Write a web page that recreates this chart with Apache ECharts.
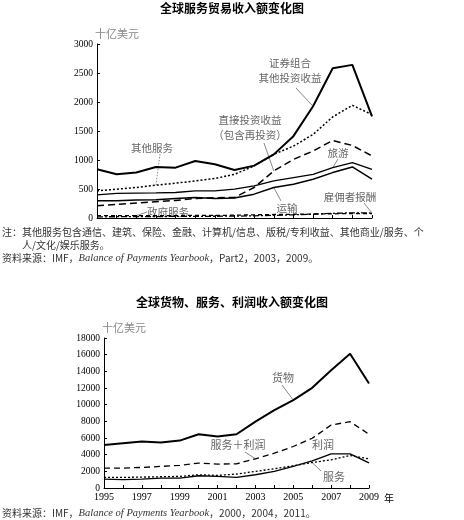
<!DOCTYPE html>
<html>
<head>
<meta charset="utf-8">
<script src="https://cdn.jsdelivr.net/npm/echarts@6/dist/echarts.min.js"></script>
<style>
  html, body { margin: 0; padding: 0; background: #fff; }
  #main { width: 464px; height: 520px; }
</style>
</head>
<body>
<div id="main"></div>
<script>
// 年份
var years = ['1995', '1996', '1997', '1998', '1999', '2000', '2001', '2002',
  '2003', '2004', '2005', '2006', '2007', '2008', '2009'];

// 图1：全球服务贸易收入额（十亿美元）
var portfolioIncome = [840, 754, 783, 880, 868, 983, 926, 829, 903, 1097, 1411, 1926, 2583, 2640, 1754];
var otherServices = [469, 497, 526, 566, 600, 640, 680, 754, 897, 1097, 1240, 1440, 1743, 1943, 1783];
var directInvestment = [211, 234, 257, 280, 303, 337, 349, 354, 526, 811, 1011, 1154, 1337, 1251, 1069];
var travel = [400, 423, 429, 434, 440, 469, 469, 497, 554, 640, 697, 754, 869, 954, 840];
var transport = [297, 297, 309, 314, 337, 354, 337, 343, 411, 526, 583, 669, 783, 880, 669];
var governmentServices = [40, 40, 40, 42, 42, 45, 45, 48, 55, 60, 65, 68, 72, 78, 75];
var compensation = [20, 22, 24, 25, 27, 28, 30, 32, 38, 45, 55, 65, 80, 90, 85];

// 图2：全球货物、服务、利润收入额（十亿美元）
var goods = [5170, 5370, 5570, 5450, 5690, 6450, 6170, 6450, 7960, 9350, 10550, 12020, 14130, 16120, 12540];
var servicesProfit = [2390, 2390, 2470, 2590, 2710, 2985, 2870, 2900, 3500, 4180, 4980, 5970, 7560, 7960, 6450];
var services = [1270, 1270, 1310, 1350, 1390, 1590, 1510, 1670, 1990, 2310, 2670, 3060, 3380, 3900, 3500];
var profit = [1070, 1000, 1070, 1190, 1190, 1470, 1390, 1270, 1590, 1990, 2590, 3260, 4100, 4100, 3020];

var serif = '"Liberation Serif", "Noto Sans CJK SC", serif';
var cjk = '"Noto Sans CJK SC", sans-serif';

var myChart = echarts.init(document.getElementById('main'));

function yAxisFor(gridIndex, max, interval, gap) {
  return {
    type: 'value', gridIndex: gridIndex, min: 0, max: max, interval: interval,
    name: '十亿美元', nameLocation: 'end', nameGap: gap,
    nameTextStyle: { color: '#888', fontFamily: cjk, fontSize: 11, align: 'left', padding: [0, 0, 0, -2] },
    axisLine: { show: true, lineStyle: { color: '#000', width: 1 } },
    axisTick: { show: true, inside: true, length: 3, lineStyle: { color: '#000' } },
    axisLabel: { color: '#000', fontFamily: serif, fontSize: 9.5, margin: 4,
      formatter: function (v) { return String(v); } },
    splitLine: { show: false }
  };
}

function line(name, data, axis, width, type, dash) {
  return {
    name: name, type: 'line', xAxisIndex: axis, yAxisIndex: axis, data: data,
    symbol: 'none', smooth: false, silent: true,
    lineStyle: { color: '#000', width: width, type: dash || type }
  };
}

option = {
  animation: false,
  backgroundColor: '#fff',
  title: [
    { text: '全球服务贸易收入额变化图', left: 'center', top: 2, padding: 0,
      textStyle: { fontSize: 12, fontWeight: 'bold', color: '#000', fontFamily: cjk } },
    { text: '全球货物、服务、利润收入额变化图', left: 'center', top: 296, padding: 0,
      textStyle: { fontSize: 12, fontWeight: 'bold', color: '#000', fontFamily: cjk } }
  ],
  grid: [
    { left: 97, right: 92, top: 44, bottom: 302 },
    { left: 104, right: 95, top: 338, bottom: 32 }
  ],
  xAxis: [
    {
      type: 'category', gridIndex: 0, data: years, boundaryGap: false,
      axisLine: { lineStyle: { color: '#000', width: 1 } },
      axisTick: { show: true, inside: true, length: 3, interval: 0, lineStyle: { color: '#000' } },
      axisLabel: { show: false }
    },
    {
      type: 'category', gridIndex: 1, data: years, boundaryGap: false,
      axisLine: { lineStyle: { color: '#000', width: 1 } },
      axisTick: { show: true, inside: true, length: 3, interval: 0, lineStyle: { color: '#000' } },
      axisLabel: { interval: 1, color: '#000', fontFamily: serif, fontSize: 10, margin: 4 }
    }
  ],
  yAxis: [
    yAxisFor(0, 3000, 500, 3),
    yAxisFor(1, 18000, 2000, 5)
  ],
  series: [
    line('证券组合、其他投资收益', portfolioIncome, 0, 2, 'solid'),
    line('其他服务', otherServices, 0, 1.5, 'dotted', [2, 2]),
    line('直接投资收益', directInvestment, 0, 1.5, 'dashed', [7, 4]),
    line('旅游', travel, 0, 1.3, 'solid'),
    line('运输', transport, 0, 1.5, 'solid'),
    line('政府服务', governmentServices, 0, 1.3, 'dashed', [4, 3]),
    line('雇佣者报酬', compensation, 0, 1.3, 'dashed', [6, 2, 2, 2]),
    line('货物', goods, 1, 2, 'solid'),
    line('服务+利润', servicesProfit, 1, 1.3, 'dashed', [6, 4]),
    line('服务', services, 1, 1.3, 'dotted', [2, 2]),
    line('利润', profit, 1, 1.3, 'solid')
  ]
};
myChart.setOption(option);

// 标注文字与引线（引线终点取自数据点）
function pt(seriesIndex, idx, data) {
  return myChart.convertToPixel({ seriesIndex: seriesIndex }, [idx, data[idx]]);
}
function label(x, y, text, size) {
  return {
    type: 'text', silent: true,
    style: { x: x, y: y, text: text, fill: '#666', font: (size || 10.5) + 'px ' + cjk,
      align: 'center', verticalAlign: 'middle' }
  };
}
function leader(x1, y1, p, dotted) {
  return {
    type: 'line', silent: true,
    shape: { x1: x1, y1: y1, x2: p[0], y2: p[1] },
    style: { stroke: '#555', lineWidth: 0.7, lineDash: dotted ? [1.5, 1.5] : null }
  };
}

var graphics = [
  label(290, 63, '证券组合'),
  label(290, 78, '其他投资收益'),
  leader(296, 88, pt(0, 11, portfolioIncome)),
  label(250, 120, '直接投资收益'),
  label(250, 135, '（包含再投资）'),
  leader(264, 143, pt(2, 9, directInvestment)),
  label(152, 148, '其他服务'),
  leader(160, 154, pt(1, 3, otherServices), true),
  label(338, 153, '旅游'),
  leader(338, 159, pt(3, 12, travel)),
  label(287, 208, '运输'),
  leader(281, 201, pt(4, 9, transport)),
  label(350, 197, '雇佣者报酬'),
  leader(364, 203, pt(6, 14, compensation)),
  label(168, 212, '政府服务'),
  leader(147, 212, pt(5, 2, governmentServices)),

  label(283, 378, '货物', 11),
  leader(282, 385, pt(7, 10, goods)),
  label(238, 445, '服务＋利润', 11),
  leader(245, 452, pt(8, 8, servicesProfit)),
  label(323, 445, '利润', 11),
  label(334, 477, '服务', 11),
  leader(321, 471, pt(9, 11, services)),

  // 横轴单位
  { type: 'text', silent: true,
    style: { x: 384, y: 498, text: '年', fill: '#000', font: '10px ' + cjk, align: 'left', verticalAlign: 'middle' } },

  // 注释与资料来源
  { type: 'text', silent: true,
    style: { x: 2, y: 232, text: '注：其他服务包含通信、建筑、保险、金融、计算机/信息、版税/专利收益、其他商业/服务、个',
      fill: '#333', font: '10px ' + cjk, align: 'left', verticalAlign: 'middle' } },
  { type: 'text', silent: true,
    style: { x: 22, y: 245, text: '人/文化/娱乐服务。',
      fill: '#333', font: '10px ' + cjk, align: 'left', verticalAlign: 'middle' } },
  { type: 'text', silent: true,
    style: { x: 2, y: 258, text: '资料来源：IMF，{i|Balance of Payments Yearbook}，Part2，2003，2009。',
      fill: '#333', font: '10px ' + cjk, align: 'left', verticalAlign: 'middle',
      rich: { i: { fontStyle: 'italic', fontFamily: serif, fontSize: 10.5, fill: '#333' } } } },
  { type: 'text', silent: true,
    style: { x: 2, y: 513, text: '资料来源：IMF，{i|Balance of Payments Yearbook}，2000，2004，2011。',
      fill: '#333', font: '10px ' + cjk, align: 'left', verticalAlign: 'middle',
      rich: { i: { fontStyle: 'italic', fontFamily: serif, fontSize: 10.5, fill: '#333' } } } }
];

myChart.setOption({ graphic: graphics });
</script>
</body>
</html>
